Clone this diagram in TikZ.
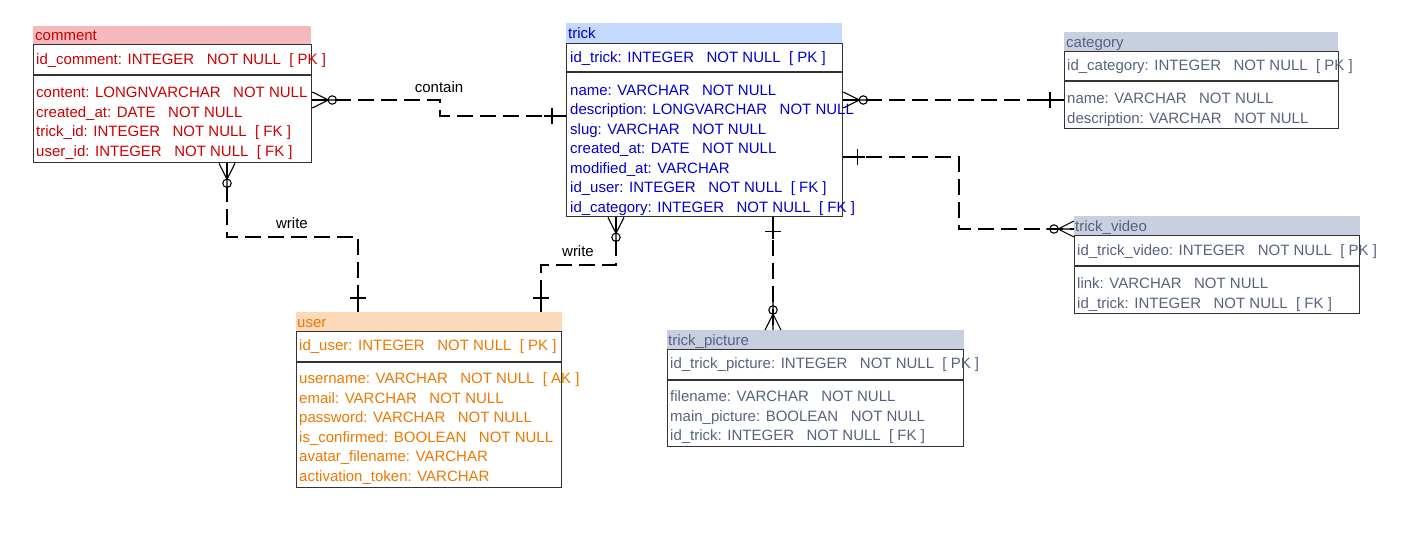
\documentclass[tikz,border=0pt]{standalone}
\usepackage{fontspec}
\setmainfont{Liberation Sans}
\definecolor{cmtfill}{HTML}{F5B9BD}
\definecolor{cmttext}{HTML}{CC0000}
\definecolor{trkfill}{HTML}{C3D9FD}
\definecolor{trktext}{HTML}{0000CC}
\definecolor{grayfill}{HTML}{C8CFDF}
\definecolor{graytext}{HTML}{56627F}
\definecolor{usrfill}{HTML}{FBD9B9}
\definecolor{usrtext}{HTML}{EE7700}
\definecolor{edge}{HTML}{333333}
\newcommand\zmany[2]{\begin{scope}[shift={#1},rotate=#2]
  \draw[sym] (0,-8)--(16,0)--(0,8) (0,0)--(28,0);
  \draw[sym] (20,0) circle (4.2);
\end{scope}}
\newcommand\onebar[2]{\begin{scope}[shift={#1},rotate=#2]
  \draw[sym] (14,-8)--(14,8) (0,0)--(22,0);
\end{scope}}
\begin{document}
\begin{tikzpicture}[x=1pt,y=-1pt,font=\fontsize{15}{17}\selectfont,
  tbl/.style={draw=edge,line width=1.3pt,anchor=north west,inner sep=0pt},
  hdr/.style={anchor=north west,inner sep=0pt,draw=none},
  ttl/.style={anchor=base west,inner sep=0pt},
  row/.style={anchor=base west,inner sep=0pt},
  rel/.style={line width=1.1pt,dash pattern=on 16pt off 7pt},
  sym/.style={line width=1.1pt},
  lbl/.style={inner sep=0pt,anchor=base,text=black}]
\useasboundingbox (0,0) rectangle (1411,549);

% ---------- comment ----------
\node[hdr,fill=cmtfill,minimum width=278pt,minimum height=18pt] (commenth) at (33,26) {};
\node[ttl,text=cmttext] (commentt) at (35,40.5) {comment};
\node[tbl,minimum width=278pt,minimum height=118pt] (comment) at (33,44) {};
\draw[edge,line width=1.3pt] (33,75) -- (311,75);
\begin{scope}[every node/.style={row,text=cmttext}]
\node (c1) at (36,64.5) {id\_comment: INTEGER~~~NOT NULL~~[ PK ]};
\node (c2) at (36,97.5) {content: LONGNVARCHAR~~~NOT NULL};
\node (c3) at (36,117) {created\_at: DATE~~~NOT NULL};
\node (c4) at (36,136.5) {trick\_id: INTEGER~~~NOT NULL~~[ FK ]};
\node (c5) at (36,156) {user\_id: INTEGER~~~NOT NULL~~[ FK ]};
\end{scope}

% ---------- trick ----------
\node[hdr,fill=trkfill,minimum width=276pt,minimum height=20pt] (trickh) at (566,23) {};
\node[ttl,text=trktext] (trickt) at (568,38.5) {trick};
\node[tbl,minimum width=276pt,minimum height=173pt] (trick) at (566,43) {};
\draw[edge,line width=1.3pt] (566,72) -- (842,72);
\begin{scope}[every node/.style={row,text=trktext}]
\node (t1) at (570,62.5) {id\_trick: INTEGER~~~NOT NULL~~[ PK ]};
\node (t2) at (570,95.5) {name: VARCHAR~~~NOT NULL};
\node (t3) at (570,114.5) {description: LONGVARCHAR~~~NOT NULL};
\node (t4) at (570,134) {slug: VARCHAR~~~NOT NULL};
\node (t5) at (570,153.5) {created\_at: DATE~~~NOT NULL};
\node (t6) at (570,173) {modified\_at: VARCHAR};
\node (t7) at (570,192.5) {id\_user: INTEGER~~~NOT NULL~~[ FK ]};
\node (t8) at (570,212) {id\_category: INTEGER~~~NOT NULL~~[ FK ]};
\end{scope}

% ---------- category ----------
\node[hdr,fill=grayfill,minimum width=274pt,minimum height=19pt] (categoryh) at (1064,32) {};
\node[ttl,text=graytext] (categoryt) at (1066,47.5) {category};
\node[tbl,minimum width=274pt,minimum height=77pt] (category) at (1064,51) {};
\draw[edge,line width=1.3pt] (1064,81) -- (1338,81);
\begin{scope}[every node/.style={row,text=graytext}]
\node (g1) at (1067,70.5) {id\_category: INTEGER~~~NOT NULL~~[ PK ]};
\node (g2) at (1067,103.5) {name: VARCHAR~~~NOT NULL};
\node (g3) at (1067,123) {description: VARCHAR~~~NOT NULL};
\end{scope}

% ---------- trick_video ----------
\node[hdr,fill=grayfill,minimum width=286pt,minimum height=19pt] (videoh) at (1074,216) {};
\node[ttl,text=graytext] (videot) at (1075,231.5) {trick\_video};
\node[tbl,minimum width=285pt,minimum height=78pt] (video) at (1074,235) {};
\draw[edge,line width=1.3pt] (1074,266) -- (1359,266);
\begin{scope}[every node/.style={row,text=graytext}]
\node (v1) at (1077,255.5) {id\_trick\_video: INTEGER~~~NOT NULL~~[ PK ]};
\node (v2) at (1077,288.5) {link: VARCHAR~~~NOT NULL};
\node (v3) at (1077,308) {id\_trick: INTEGER~~~NOT NULL~~[ FK ]};
\end{scope}

% ---------- user ----------
\node[hdr,fill=usrfill,minimum width=266pt,minimum height=19pt] (userh) at (296,312) {};
\node[ttl,text=usrtext] (usert) at (297,327.5) {user};
\node[tbl,minimum width=265pt,minimum height=156pt] (user) at (296,331) {};
\draw[edge,line width=1.3pt] (296,362) -- (561,362);
\begin{scope}[every node/.style={row,text=usrtext}]
\node (u1) at (299,350.5) {id\_user: INTEGER~~~NOT NULL~~[ PK ]};
\node (u2) at (299,383.5) {username: VARCHAR~~~NOT NULL~~[ AK ]};
\node (u3) at (299,403) {email: VARCHAR~~~NOT NULL};
\node (u4) at (299,422.5) {password: VARCHAR~~~NOT NULL};
\node (u5) at (299,442) {is\_confirmed: BOOLEAN~~~NOT NULL};
\node (u6) at (299,461.5) {avatar\_filename: VARCHAR};
\node (u7) at (299,481) {activation\_token: VARCHAR};
\end{scope}

% ---------- trick_picture ----------
\node[hdr,fill=grayfill,minimum width=297pt,minimum height=19pt] (pich) at (667,330) {};
\node[ttl,text=graytext] (pict) at (668,345.5) {trick\_picture};
\node[tbl,minimum width=296pt,minimum height=97pt] (pic) at (667,349) {};
\draw[edge,line width=1.3pt] (667,380) -- (963,380);
\begin{scope}[every node/.style={row,text=graytext}]
\node (p1) at (670,368.5) {id\_trick\_picture: INTEGER~~~NOT NULL~~[ PK ]};
\node (p2) at (670,401.5) {filename: VARCHAR~~~NOT NULL};
\node (p3) at (670,421) {main\_picture: BOOLEAN~~~NOT NULL};
\node (p4) at (670,440.5) {id\_trick: INTEGER~~~NOT NULL~~[ FK ]};
\end{scope}

% ---------- connectors ----------
% comment -- trick (contain)
\draw[rel] (comment.north east |- 0,100) -- (440,100) -- (440,116) -- (trick.north west |- 0,116);
\node[lbl] (contain) at (439,92) {contain};
\zmany{(comment.north east |- 0,100)}{0}
\onebar{(trick.north west |- 0,116)}{180}

% comment -- user (write)
\draw[rel] (comment.south west -| 227,0) -- (227,237) -- (358,237) -- (userh.north west -| 358,0);
\node[lbl] (write1) at (292,228) {write};
\zmany{(comment.south west -| 227,0)}{-90}
\onebar{(userh.north west -| 358,0)}{90}

% trick -- user (write)
\draw[rel] (trick.south west -| 616,0) -- (616,265) -- (541,265) -- (userh.north west -| 541,0);
\node[lbl] (write2) at (578,256) {write};
\zmany{(trick.south west -| 616,0)}{-90}
\onebar{(userh.north west -| 541,0)}{90}

% trick -- category
\draw[rel] (trick.north east |- 0,100) -- (category.north west |- 0,100);
\zmany{(trick.north east |- 0,100)}{0}
\onebar{(category.north west |- 0,100)}{180}

% trick -- trick_video
\draw[rel] (trick.north east |- 0,157) -- (959,157) -- (959,229) -- (videoh.north west |- 0,229);
\onebar{(trick.north east |- 0,157)}{0}
\zmany{(videoh.north west |- 0,229)}{180}

% trick -- trick_picture
\draw[rel] (trick.south west -| 773,0) -- (pich.north west -| 773,0);
\onebar{(trick.south west -| 773,0)}{-90}
\zmany{(pich.north west -| 773,0)}{90}
\end{tikzpicture}
\end{document}
